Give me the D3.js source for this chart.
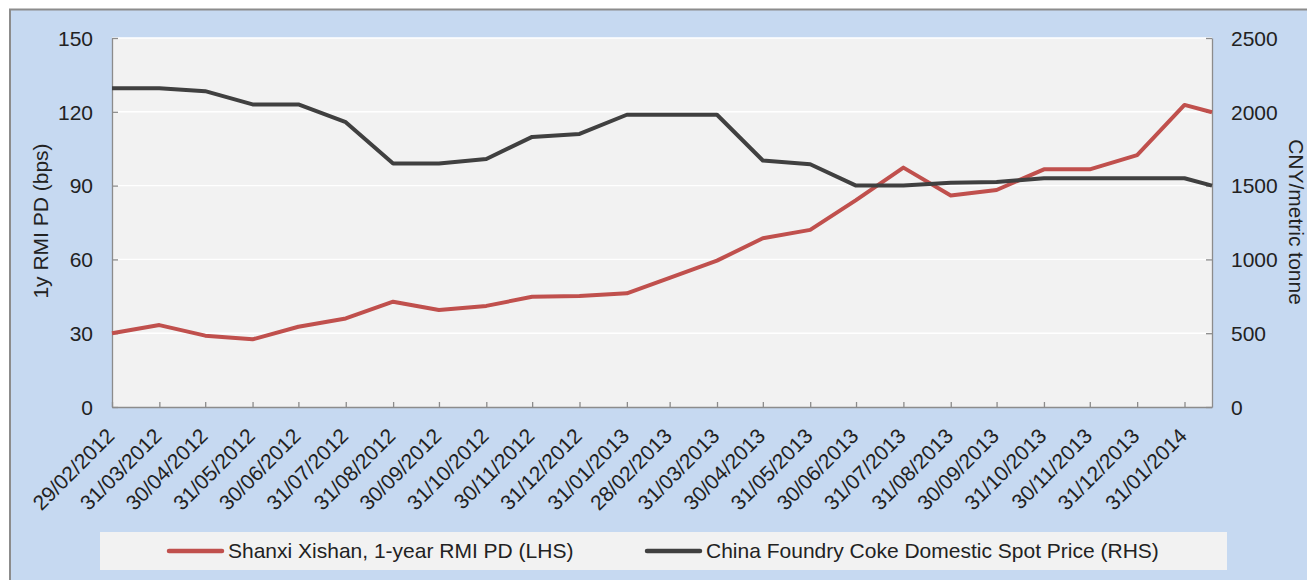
<!DOCTYPE html>
<html>
<head>
<meta charset="utf-8">
<script src="https://cdn.jsdelivr.net/npm/d3@7"></script>
<style>
  html, body { margin: 0; padding: 0; background: #fff; }
  svg { display: block; font-family: "Liberation Sans", Arial, sans-serif; }
  .axis text { fill: #222; font-size: 21px; }
  .axis path, .axis line { stroke: #8c8c8c; stroke-width: 1.3; }
</style>
</head>
<body>
<div id="chart-container"></div>
<script>
// data
const dates = ["29/02/2012", "31/03/2012", "30/04/2012", "31/05/2012", "30/06/2012", "31/07/2012",
  "31/08/2012", "30/09/2012", "31/10/2012", "30/11/2012", "31/12/2012", "31/01/2013",
  "28/02/2013", "31/03/2013", "30/04/2013", "31/05/2013", "30/06/2013", "31/07/2013",
  "31/08/2013", "30/09/2013", "31/10/2013", "30/11/2013", "31/12/2013", "31/01/2014", "18/02/2014"];
const rmiPD = [30, 33.3, 29, 27.5, 32.6, 36, 42.8, 39.4, 41.1, 44.8, 45.1, 46.2,
  52.5, 59.5, 68.6, 72, 84.1, 97.3, 86, 88.2, 96.6, 96.6, 102.4, 122.8, 119.8];
const cokePrice = [2160, 2160, 2140, 2050, 2050, 1930, 1650, 1650, 1680, 1830, 1850, 1980,
  1980, 1980, 1670, 1645, 1500, 1500, 1520, 1525, 1550, 1550, 1550, 1550, 1500];
const tickLabels = dates.slice(0, 24);
const leftTicks = [0, 30, 60, 90, 120, 150];
const rightTicks = [0, 500, 1000, 1500, 2000, 2500];
const seriesNames = ["Shanxi Xishan, 1-year RMI PD (LHS)", "China Foundry Coke Domestic Spot Price (RHS)"];
const seriesColors = ["#c0504d", "#404040"];

const W = 1307, H = 580;
const margin = { top: 38, right: 95, bottom: 173, left: 112 };
const width = W - margin.left - margin.right;
const height = H - margin.top - margin.bottom;

const parse = d3.timeParse("%d/%m/%Y");
const fmt = d3.timeFormat("%d/%m/%Y");
const data = dates.map((d, i) => ({ date: parse(d), pd: rmiPD[i], price: cokePrice[i] }));

const root = d3.select("#chart-container").append("svg")
    .attr("width", W)
    .attr("height", H);

// panel background
root.append("rect")
    .attr("x", 10).attr("y", 9.5)
    .attr("width", W + 20).attr("height", H + 20)
    .attr("fill", "#c6d9f1")
    .attr("stroke", "#8c8c8c")
    .attr("stroke-width", 2);

const svg = root.append("g")
    .attr("transform", `translate(${margin.left},${margin.top})`);

// scales
const x = d3.scaleTime()
    .domain(d3.extent(data, d => d.date))
    .range([0, width]);
const yL = d3.scaleLinear().domain([0, 150]).range([height, 0]);
const yR = d3.scaleLinear().domain([0, 2500]).range([height, 0]);

// plot area + gridlines
svg.append("rect")
    .attr("width", width).attr("height", height)
    .attr("fill", "#f2f2f2");

svg.selectAll(".grid")
    .data(leftTicks.filter(v => v > 0))
    .enter().append("line")
    .attr("x1", 0).attr("x2", width)
    .attr("y1", d => yL(d)).attr("y2", d => yL(d))
    .attr("stroke", "#fff")
    .attr("stroke-width", 1.4);

// axes
svg.append("g")
    .attr("class", "axis")
    .call(d3.axisLeft(yL).tickValues(leftTicks).tickSize(-6).tickSizeOuter(0).tickPadding(19))
    .selectAll("text").attr("dy", "0.35em");

svg.append("g")
    .attr("class", "axis")
    .attr("transform", `translate(${width},0)`)
    .call(d3.axisRight(yR).tickValues(rightTicks).tickFormat(d3.format("d"))
        .tickSize(-6).tickSizeOuter(0).tickPadding(19))
    .selectAll("text").attr("dy", "0.35em");

const xAxis = svg.append("g")
    .attr("class", "axis")
    .attr("transform", `translate(0,${height})`)
    .call(d3.axisBottom(x).tickValues(tickLabels.map(parse)).tickFormat(fmt).tickSize(-5).tickSizeOuter(0));

xAxis.selectAll("text")
    .attr("x", 0).attr("y", 0)
    .attr("dy", "0.35em")
    .attr("text-anchor", "end")
    .attr("transform", "translate(-2,25) rotate(-45)");

// axis titles
root.append("text")
    .attr("transform", "translate(48,221) rotate(-90)")
    .attr("text-anchor", "middle")
    .attr("fill", "#222").attr("font-size", 21)
    .text("1y RMI PD (bps)");

root.append("text")
    .attr("transform", "translate(1289,222) rotate(90)")
    .attr("text-anchor", "middle")
    .attr("fill", "#222").attr("font-size", 21)
    .text("CNY/metric tonne");

// lines
const linePD = d3.line().x(d => x(d.date)).y(d => yL(d.pd));
const linePrice = d3.line().x(d => x(d.date)).y(d => yR(d.price));

svg.append("path")
    .datum(data)
    .attr("d", linePD)
    .attr("fill", "none")
    .attr("stroke", seriesColors[0])
    .attr("stroke-width", 4)
    .attr("stroke-linejoin", "round");

svg.append("path")
    .datum(data)
    .attr("d", linePrice)
    .attr("fill", "none")
    .attr("stroke", seriesColors[1])
    .attr("stroke-width", 4)
    .attr("stroke-linejoin", "round");

// legend
const legend = root.append("g");
legend.append("rect")
    .attr("x", 100).attr("y", 532)
    .attr("width", 1127).attr("height", 38)
    .attr("fill", "#f2f2f2");

const legendX = [169, 647];
seriesNames.forEach((name, i) => {
    legend.append("line")
        .attr("x1", legendX[i]).attr("x2", legendX[i] + 53)
        .attr("y1", 551).attr("y2", 551)
        .attr("stroke", seriesColors[i])
        .attr("stroke-width", 4.5)
        .attr("stroke-linecap", "round");
    legend.append("text")
        .attr("x", legendX[i] + 59).attr("y", 551)
        .attr("dy", "0.35em")
        .attr("fill", "#222").attr("font-size", 21)
        .text(name);
});
</script>
</body>
</html>
